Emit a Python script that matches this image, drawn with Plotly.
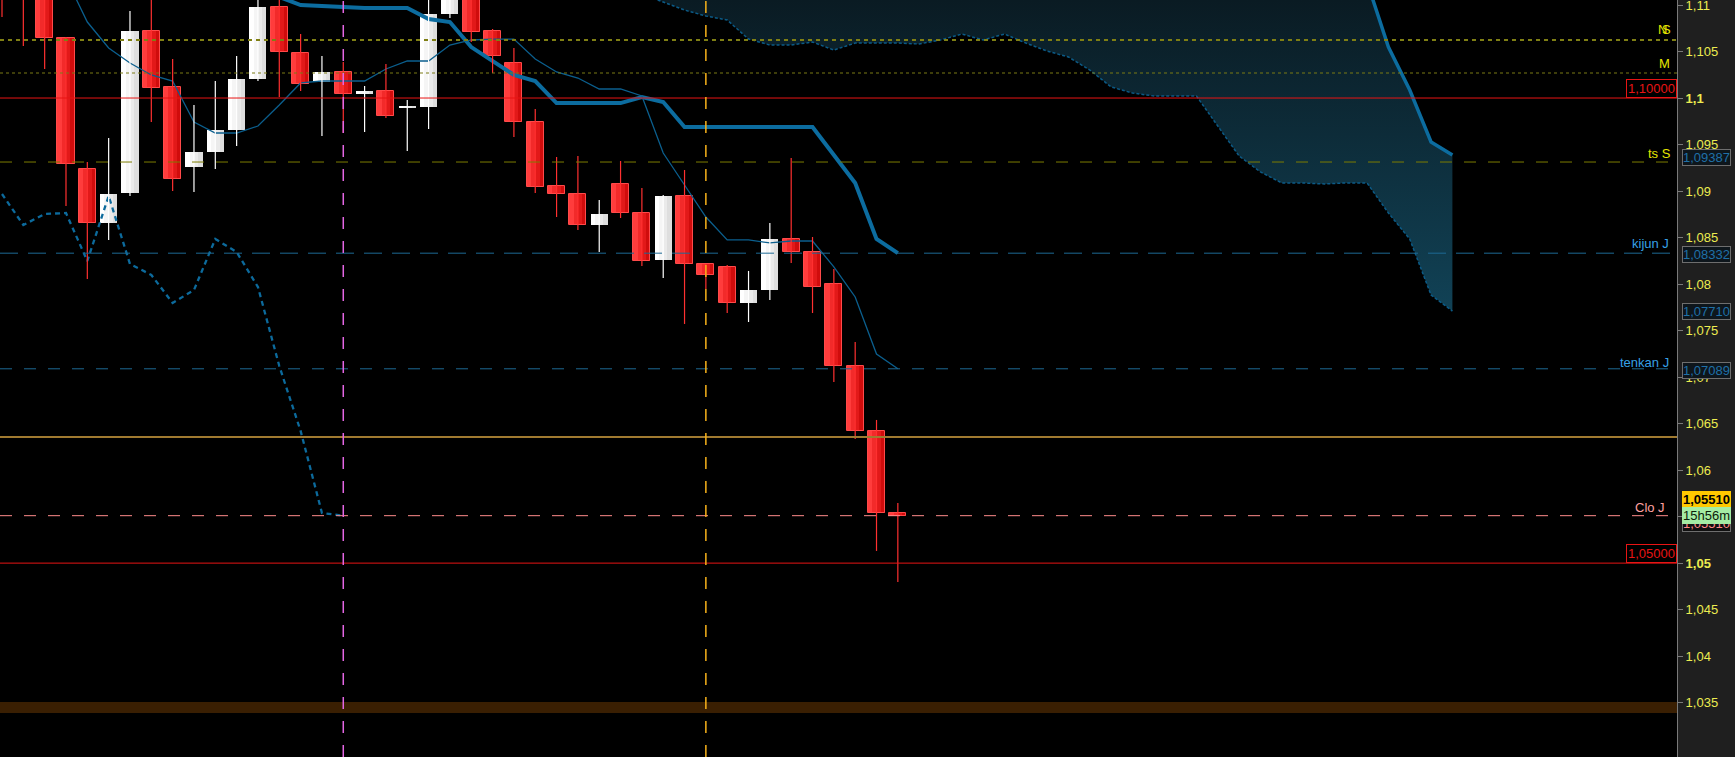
import plotly.graph_objects as go

# ---------------- data ----------------
opens  = [1.11300, 1.11250, 1.11120, 1.10645, 1.09237, 1.08656, 1.08979, 1.10720, 1.10119, 1.09259,
          1.09420, 1.09656, 1.10205, 1.10978, 1.10484, 1.10172, 1.10280, 1.10043, 1.10076, 1.09893,
          1.09904, 1.10903, 1.11120, 1.10720, 1.10377, 1.09742, 1.09054, 1.08968, 1.08635, 1.09076,
          1.08764, 1.08259, 1.08947, 1.08216, 1.08184, 1.07797, 1.07936, 1.08484, 1.08345, 1.08001,
          1.07119, 1.06421, 1.05540]
highs  = [1.11400, 1.11380, 1.11150, 1.10656, 1.09312, 1.09570, 1.10935, 1.11100, 1.10420, 1.09925,
          1.10183, 1.10452, 1.11100, 1.11100, 1.10688, 1.10452, 1.10387, 1.10129, 1.10366, 1.09979,
          1.11120, 1.11250, 1.11200, 1.10742, 1.10538, 1.09882, 1.09366, 1.09377, 1.08904, 1.09323,
          1.09033, 1.08958, 1.09226, 1.08216, 1.08205, 1.08141, 1.08656, 1.09355, 1.08506, 1.08162,
          1.07377, 1.06539, 1.05647]
lows   = [1.10871, 1.10559, 1.10312, 1.08839, 1.08055, 1.08474, 1.08947, 1.09742, 1.09001, 1.08990,
          1.09237, 1.09484, 1.10183, 1.10011, 1.10076, 1.09592, 1.09624, 1.09635, 1.09785, 1.09431,
          1.09667, 1.10860, 1.10602, 1.10269, 1.09581, 1.08979, 1.08721, 1.08581, 1.08345, 1.08710,
          1.08194, 1.08065, 1.07571, 1.07947, 1.07689, 1.07592, 1.07829, 1.08227, 1.07689, 1.06947,
          1.06335, 1.05131, 1.04797]
closes = [1.11120, 1.11120, 1.10645, 1.09291, 1.08656, 1.08968, 1.10720, 1.10108, 1.09130, 1.09420,
          1.09656, 1.10205, 1.10978, 1.10495, 1.10151, 1.10280, 1.10043, 1.10076, 1.09807, 1.09904,
          1.10903, 1.11150, 1.10710, 1.10452, 1.09742, 1.09044, 1.08968, 1.08635, 1.08753, 1.08764,
          1.08248, 1.08947, 1.08216, 1.08098, 1.07797, 1.07936, 1.08484, 1.08345, 1.07968, 1.07119,
          1.06421, 1.05539, 1.05510]

kijun_start = 12
kijun = [1.11150, 1.11086, 1.11000, 1.10989, 1.10978, 1.10968, 1.10968, 1.10968, 1.10849, 1.10817,
         1.10548, 1.10398, 1.10248, 1.10183, 1.09946, 1.09946, 1.09946, 1.09946, 1.10011, 1.09957,
         1.09688, 1.09688, 1.09688, 1.09688, 1.09688, 1.09688, 1.09688, 1.09388, 1.09087, 1.08484,
         1.08332]

tenkan_start = 3
tenkan = [1.11290, 1.10817, 1.10538, 1.10377, 1.10248, 1.10183, 1.09742, 1.09624, 1.09624, 1.09699,
          1.09925, 1.10162, 1.10183, 1.10183, 1.10183, 1.10312, 1.10398, 1.10398, 1.10570, 1.10624,
          1.10634, 1.10634, 1.10420, 1.10280, 1.10215, 1.10097, 1.10097, 1.10022, 1.09409, 1.09065,
          1.08721, 1.08474, 1.08474, 1.08442, 1.08463, 1.08463, 1.08184, 1.07861, 1.07248, 1.07089]

cloud_start = 29
span_b = [1.11215, 1.11118, 1.11032, 1.10946, 1.10882, 1.10839, 1.10634, 1.10570, 1.10570, 1.10602,
          1.10516, 1.10591, 1.10591, 1.10591, 1.10581, 1.10624, 1.10688, 1.10624, 1.10688, 1.10591,
          1.10505, 1.10441, 1.10301, 1.10119, 1.10054, 1.10022, 1.10022, 1.10022, 1.09699, 1.09377,
          1.09205, 1.09087, 1.09087, 1.09076, 1.09087, 1.09087, 1.08764, 1.08484, 1.07882, 1.07710]
span_a = [1.11850, 1.11850, 1.11850, 1.11850, 1.11850, 1.11850, 1.11850, 1.11850, 1.11850, 1.11850,
          1.11850, 1.11850, 1.11750, 1.11750, 1.11750, 1.11750, 1.11750, 1.11750, 1.11750, 1.11750,
          1.11750, 1.11750, 1.11650, 1.11650, 1.11650, 1.11650, 1.11650, 1.11650, 1.11650, 1.11580,
          1.11500, 1.11420, 1.11350, 1.11300, 1.11280, 1.11247, 1.10548, 1.10086, 1.09527, 1.09387]

chikou_shift = 26

tick_vals = [1.11, 1.105, 1.10, 1.095, 1.09, 1.085, 1.08, 1.075, 1.07, 1.065, 1.06, 1.055, 1.05,
             1.045, 1.04, 1.035]
tick_text = ["1,11", "1,105", "<b>1,1</b>", "1,095", "1,09", "1,085", "1,08", "1,075", "1,07",
             "1,065", "1,06", "1,055", "<b>1,05</b>", "1,045", "1,04", "1,035"]

levels_ns = 1.10624
levels_m = 1.10269
level_round_hi = 1.10000
level_ts_s = 1.09312
level_kijun_j = 1.08332
level_tenkan_j = 1.07089
level_gold = 1.06356
level_clo_j = 1.05510
level_round_lo = 1.05000
band_lo, band_hi = 1.03390, 1.03508
vline_magenta = 16
vline_orange = 33

FONT = "Liberation Sans, Arial, sans-serif"

fig = go.Figure()

n = len(opens)
xs = list(range(n))

# ---------------- ichimoku cloud ----------------
cx = list(range(cloud_start, cloud_start + len(span_b)))
fig.add_trace(go.Scatter(x=cx, y=span_b, mode="lines",
                         line=dict(color="#0b5a86", width=1.5, dash="3px,2px"),
                         hoverinfo="skip"))
fig.add_trace(go.Scatter(x=cx, y=span_a, mode="lines", fill="tonexty",
                         line=dict(color="#0c6c9f", width=3.5),
                         fillgradient=dict(type="vertical",
                                           colorscale=[[0, "#114256"], [1, "#0a1b23"]],
                                           start=1.0771, stop=1.1105),
                         hoverinfo="skip"))

# ---------------- chikou ----------------
chikou = closes[chikou_shift:]
fig.add_trace(go.Scatter(x=list(range(len(chikou))), y=chikou, mode="lines",
                         line=dict(color="#0c6a9c", width=2.3, dash="5px,4px"),
                         hoverinfo="skip"))

# ---------------- kijun / tenkan ----------------
fig.add_trace(go.Scatter(x=list(range(kijun_start, kijun_start + len(kijun))), y=kijun,
                         mode="lines", line=dict(color="#0c6c9f", width=4), hoverinfo="skip"))
fig.add_trace(go.Scatter(x=list(range(tenkan_start, tenkan_start + len(tenkan))), y=tenkan,
                         mode="lines", line=dict(color="#0b5f8e", width=1.3), hoverinfo="skip"))

# ---------------- candles ----------------
up = [i for i in xs if closes[i] >= opens[i]]
dn = [i for i in xs if closes[i] < opens[i]]

def wick_xy(idx):
    wx, wy = [], []
    for i in idx:
        wx += [i, i, None]
        wy += [lows[i], highs[i], None]
    return wx, wy

for idx, col in ((dn, "#ff3030"), (up, "#ffffff")):
    wx, wy = wick_xy(idx)
    fig.add_trace(go.Scatter(x=wx, y=wy, mode="lines", line=dict(color=col, width=1.2),
                             hoverinfo="skip"))

red_shades = ["#ff3c3c", "#f22a2a", "#e21919", "#d00c0c"]
white_shades = ["#ffffff", "#f5f5f5", "#eaeaea", "#dedede"]
BW = 0.8
for idx, shades in ((dn, red_shades), (up, white_shades)):
    base = [min(opens[i], closes[i]) for i in idx]
    hgt = [max(abs(closes[i] - opens[i]), 0.00011) for i in idx]
    for k, c in enumerate(shades):
        w = BW - 0.2 * k
        fig.add_trace(go.Bar(x=idx, y=hgt, base=base, width=w, offset=-BW / 2 + 0.2 * k,
                             marker=dict(color=c, line=dict(width=0)), hoverinfo="skip"))
base = [min(opens[i], closes[i]) for i in dn]
hgt = [abs(closes[i] - opens[i]) for i in dn]
fig.add_trace(go.Bar(x=dn, y=hgt, base=base, width=BW, offset=-BW / 2,
                     marker=dict(color="rgba(0,0,0,0)", line=dict(width=1, color="#ff4a4a")),
                     hoverinfo="skip"))

# ---------------- shapes ----------------
def hline(y, color, width, dash="solid"):
    fig.add_shape(type="line", xref="paper", x0=0, x1=1, yref="y", y0=y, y1=y,
                  line=dict(color=color, width=width, dash=dash))

fig.add_shape(type="rect", xref="paper", x0=0, x1=1, yref="y", y0=band_lo, y1=band_hi,
              fillcolor="#3a1f02", line=dict(width=0))
hline(levels_ns, "#7f7f14", 2, "4px,4px")
hline(levels_m, "#7a7a14", 1, "3px,3px")
hline(level_round_hi, "#e81414", 1)
hline(level_ts_s, "#7d7d00", 1, "12px,12px")
hline(level_kijun_j, "#1d6a94", 1, "18px,10px")
hline(level_tenkan_j, "#1d6a94", 1, "12px,12px")
hline(level_gold, "#a07a30", 2)
hline(level_clo_j, "#ff8c8c", 1, "12px,12px")
hline(level_round_lo, "#e81414", 1)

for xv, col in ((vline_magenta, "#e466e4"), (vline_orange, "#f7b21a")):
    fig.add_shape(type="line", xref="x", x0=xv, x1=xv, yref="paper", y0=0, y1=1,
                  line=dict(color=col, width=1.5, dash="12px,12px"))

# ---------------- labels ----------------
def lab(text, y, color, x=0.9976):
    fig.add_annotation(text=text, xref="paper", x=x, xanchor="right", yref="y", y=y,
                       yanchor="middle", showarrow=False,
                       font=dict(family=FONT, size=13, color=color))

lab("N", 1.10742, "#e6e600", x=0.9952)
lab("S", 1.10742, "#e6e600", x=0.9976)
lab("M", 1.10371, "#e6e600", x=0.9970)
lab("ts S", 1.09409, "#e6e600")
lab("kijun J", 1.08431, "#36a0e6", x=0.9964)
lab("tenkan J", 1.07162, "#36a0e6", x=0.9964)
lab("Clo J", 1.05593, "#ffa0a0", x=0.9942)

for txt, yv in (("1,10000", level_round_hi), ("1,05000", level_round_lo)):
    fig.add_annotation(text=txt, xref="paper", x=1, xanchor="right", yref="y", y=yv,
                       yanchor="bottom", showarrow=False, bgcolor="#000000",
                       bordercolor="#e81414", borderwidth=1, borderpad=1,
                       font=dict(family=FONT, size=13, color="#e81414"))

def axbox(text, y, bg, border, color, bold=False):
    fig.add_annotation(text=("<b>%s</b>" % text) if bold else text, xref="paper", x=1.003,
                       xanchor="left", yref="y", y=y, yanchor="middle", showarrow=False,
                       bgcolor=bg, bordercolor=border, borderwidth=1, borderpad=0,
                       font=dict(family=FONT, size=13, color=color))

axbox("1,09387", 1.09366, "#0e161c", "#6e6e6e", "#1f70a8")
axbox("1,08332", 1.08323, "#0e161c", "#6e6e6e", "#1f70a8")
axbox("1,07710", 1.07700, "#0e161c", "#6e6e6e", "#1f70a8")
axbox("1,07089", 1.07076, "#0e161c", "#6e6e6e", "#1f70a8")
axbox("1,05510", 1.05421, "#101010", "#6e6e6e", "#ff8a8a")
axbox("1,05510", 1.05684, "#ffc800", "#ffc800", "#000000", bold=True)
axbox("15h56m", 1.05507, "#a4eca4", "#a4eca4", "#0a200a")

# ---------------- layout ----------------
fig.update_layout(
    width=1735, height=757,
    margin=dict(l=0, r=58, t=0, b=0, pad=0),
    paper_bgcolor="#1f1f1f", plot_bgcolor="#000000",
    showlegend=False, barmode="overlay", bargap=0,
    font=dict(family=FONT, size=13, color="#e6e64c"),
    xaxis=dict(range=[-0.094, 78.53], visible=False, fixedrange=True),
    yaxis=dict(range=[1.029157, 1.110538], side="right", showgrid=False, zeroline=False,
               showline=True, linecolor="#7a7a7a", linewidth=1, ticks="outside", ticklen=5,
               tickcolor="#7a7a7a", tickvals=tick_vals, ticktext=tick_text,
               tickfont=dict(family=FONT, size=13, color="#ecec50"), automargin=False,
               ticklabeloverflow="allow", fixedrange=True),
)

fig.write_html("out.html", config={"displayModeBar": False},
               post_script="document.body.style.margin='0px';"
                           "document.body.style.overflow='hidden';"
                           "document.body.style.background='#000';")
